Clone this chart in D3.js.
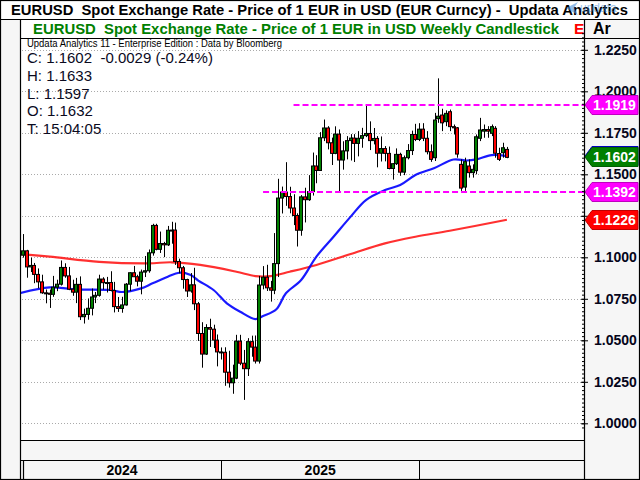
<!DOCTYPE html>
<html>
<head>
<meta charset="utf-8">
<script src="https://cdnjs.cloudflare.com/ajax/libs/d3/7.8.5/d3.min.js"></script>
<style>
body { margin:0; background:#fff; }
svg { display:block; font-family:"Liberation Sans", Arial, sans-serif; }
text { white-space:pre; }
</style>
</head>
<body>
<script>
// weekly candles, index 0 = week of 18 Dec 2023
var openP = [1.0894,1.1013,1.1039,1.0942,1.0951,1.0897,1.0852,1.0786,1.0784,1.0777,
  1.0820,1.0838,1.0939,1.0888,1.0808,1.0790,1.0837,1.0642,1.0656,1.0693,
  1.0761,1.0771,1.0869,1.0847,1.0848,1.0800,1.0703,1.0692,1.0713,1.0838,
  1.0907,1.0883,1.0856,1.0911,1.0919,1.1027,1.1192,1.1048,1.1083,1.1075,
  1.1163,1.1164,1.0975,1.0937,1.0866,1.0797,1.0834,1.0720,1.0541,1.0417,
  1.0577,1.0567,1.0501,1.0430,1.0428,1.0308,1.0244,1.0272,1.0495,1.0362,
  1.0329,1.0492,1.0459,1.0375,1.0833,1.0880,1.0816,1.0802,1.0962,1.1357,
  1.1393,1.1366,1.1297,1.1252,1.1163,1.1364,1.1347,1.1396,1.1550,1.1523,
  1.1720,1.1779,1.1690,1.1626,1.1742,1.1586,1.1641,1.1703,1.1718,1.1686,
  1.1717,1.1733,1.1746,1.1703,1.1716,1.1627,1.1655,1.1626,1.1535,1.1564,
  1.1620,1.1513,1.1600,1.1643,1.1740,1.1710,1.1772,1.1717,1.1636,1.1600,
  1.1835,1.1857,1.1817,1.1877,1.1787,1.1780,1.1560,1.1423,1.1550,1.1510,
  1.1522,1.1717,1.1760,1.1770,1.1747,1.1777,1.1625,1.1630,1.1650];
var highP = [1.1040,1.1140,1.1045,1.0998,1.0966,1.0933,1.0895,1.0806,1.0806,1.0888,
  1.0865,1.0981,1.0964,1.0942,1.0865,1.0876,1.0885,1.0691,1.0752,1.0812,
  1.0791,1.0895,1.0880,1.0882,1.0916,1.0852,1.0761,1.0762,1.0845,1.0910,
  1.0948,1.0895,1.0926,1.1008,1.1047,1.1202,1.1202,1.1155,1.1093,1.1189,
  1.1214,1.1209,1.0992,1.0948,1.0871,1.0905,1.0937,1.0731,1.0609,1.0597,
  1.0630,1.0594,1.0535,1.0457,1.0458,1.0437,1.0353,1.0533,1.0533,1.0442,
  1.0513,1.0528,1.0529,1.0888,1.0947,1.0955,1.0858,1.1146,1.1473,1.1426,
  1.1573,1.1425,1.1380,1.1265,1.1375,1.1419,1.1495,1.1631,1.1615,1.1754,
  1.1830,1.1790,1.1721,1.1789,1.1770,1.1699,1.1730,1.1742,1.1742,1.1760,
  1.1780,1.1919,1.1819,1.1779,1.1730,1.1728,1.1670,1.1667,1.1566,1.1656,
  1.1630,1.1613,1.1682,1.1763,1.1804,1.1808,1.1808,1.1760,1.1680,1.1870,
  1.2078,1.1895,1.1885,1.1890,1.1800,1.1785,1.1590,1.1600,1.1590,1.1560,
  1.1740,1.1840,1.1800,1.1790,1.1800,1.1790,1.1660,1.1690,1.1665];
var lowP = [1.0880,1.0998,1.0877,1.0911,1.0844,1.0813,1.0780,1.0723,1.0695,1.0762,
  1.0796,1.0830,1.0877,1.0802,1.0768,1.0724,1.0622,1.0601,1.0624,1.0650,
  1.0724,1.0763,1.0805,1.0788,1.0795,1.0668,1.0671,1.0666,1.0709,1.0796,
  1.0881,1.0825,1.0777,1.0881,1.0907,1.1010,1.1042,1.1026,1.1001,1.1068,
  1.1082,1.0954,1.0903,1.0811,1.0761,1.0787,1.0682,1.0496,1.0335,1.0412,
  1.0460,1.0453,1.0343,1.0384,1.0226,1.0215,1.0178,1.0266,1.0350,1.0141,
  1.0285,1.0401,1.0360,1.0360,1.0807,1.0797,1.0733,1.0778,1.0881,1.1264,
  1.1310,1.1265,1.1194,1.1065,1.1130,1.1210,1.1340,1.1372,1.1446,1.1520,
  1.1700,1.1650,1.1556,1.1621,1.1392,1.1528,1.1590,1.1583,1.1574,1.1608,
  1.1660,1.1724,1.1646,1.1680,1.1542,1.1577,1.1578,1.1530,1.1468,1.1556,
  1.1491,1.1495,1.1590,1.1616,1.1700,1.1700,1.1700,1.1620,1.1575,1.1580,
  1.1810,1.1760,1.1790,1.1760,1.1740,1.1600,1.1400,1.1400,1.1480,1.1480,
  1.1500,1.1700,1.1720,1.1720,1.1730,1.1600,1.1580,1.1600,1.1597];
var closeP = [1.1013,1.1039,1.0942,1.0951,1.0897,1.0852,1.0786,1.0784,1.0777,1.0820,
  1.0838,1.0939,1.0888,1.0808,1.0790,1.0837,1.0642,1.0656,1.0693,1.0761,
  1.0771,1.0869,1.0847,1.0848,1.0800,1.0703,1.0692,1.0713,1.0838,1.0907,
  1.0883,1.0856,1.0911,1.0919,1.1027,1.1192,1.1048,1.1083,1.1075,1.1163,
  1.1164,1.0975,1.0937,1.0866,1.0797,1.0834,1.0720,1.0541,1.0417,1.0577,
  1.0567,1.0501,1.0430,1.0428,1.0308,1.0244,1.0272,1.0495,1.0362,1.0329,
  1.0492,1.0459,1.0375,1.0833,1.0880,1.0816,1.0802,1.0962,1.1357,1.1393,
  1.1366,1.1297,1.1252,1.1163,1.1364,1.1347,1.1396,1.1550,1.1523,1.1720,
  1.1779,1.1690,1.1626,1.1742,1.1586,1.1641,1.1703,1.1718,1.1686,1.1717,
  1.1733,1.1746,1.1703,1.1716,1.1627,1.1655,1.1626,1.1535,1.1564,1.1620,
  1.1513,1.1600,1.1643,1.1740,1.1710,1.1772,1.1717,1.1636,1.1590,1.1827,
  1.1850,1.1810,1.1867,1.1787,1.1780,1.1622,1.1417,1.1576,1.1510,1.1530,
  1.1726,1.1767,1.1770,1.1760,1.1787,1.1627,1.1590,1.1660,1.1602];

// moving averages at some week positions
var maIdx  = [0, 8, 15, 24, 27, 32, 35, 39, 42, 45, 47, 51, 54.5, 58, 62, 64, 67.5, 70, 74, 78, 82.5, 87, 91, 96, 100, 104, 109, 114, 117.5, 120, 124, 128];
var blueMA = [1.0783,1.0819,1.0807,1.0803,1.0791,1.0813,1.0843,1.0883,1.0907,1.0893,1.0860,1.0803,1.0723,1.0672,1.0628,1.0646,1.0687,1.0783,1.0863,1.1004,1.1124,1.1245,1.1345,1.1405,1.1436,1.1496,1.1538,1.1589,1.1583,1.1590,1.1616,1.1610];
var redIdx = [0, 8, 21, 34, 40, 47.5, 57, 62, 66, 71, 78, 87, 96, 104, 113, 128];
var redMA  = [1.1020,1.1004,1.0973,1.0964,1.0970,1.0954,1.0913,1.0887,1.0887,1.0913,1.0954,1.1020,1.1084,1.1124,1.1160,1.1226];

// support / resistance lines (level, first week)
var levels = [1.1919, 1.1392];
var levelStart = [72, 64];

var yTicks = [1.0, 1.025, 1.05, 1.075, 1.1, 1.125, 1.15, 1.175, 1.2, 1.225];
var years = ["2024", "2025", ""];
var yearBreaks = [-4.7, 53, 105, 148];

var infoLines = ["C: 1.1602  -0.0029 (-0.24%)", "H: 1.1633", "L: 1.1597", "O: 1.1632", "T: 15:04:05"];

var W = 640, H = 480;
var pl = 20, pr = 584, pt = 38, pb = 440;
var panel = "#f6f6f6";

var svg = d3.select("body").append("svg")
    .attr("width", W)
    .attr("height", H);

var x = d3.scaleLinear().domain([0, 128]).range([19.2, 506.9]);
var y = d3.scaleLinear().domain([1.0, 1.225]).range([423.3, 49.8]);

// backgrounds
svg.append("rect").attr("width", W).attr("height", H).attr("fill", "#fff");
svg.append("rect").attr("x", 0).attr("y", 19).attr("width", pl).attr("height", H - 19).attr("fill", panel);
svg.append("rect").attr("x", pr).attr("y", 19).attr("width", W - pr).attr("height", H - 19).attr("fill", panel);
svg.append("rect").attr("x", pl).attr("y", pb).attr("width", pr - pl).attr("height", H - pb).attr("fill", panel);

svg.append("defs").append("clipPath").attr("id", "plotclip")
  .append("rect").attr("x", pl + 1).attr("y", pt + 1).attr("width", pr - pl - 1).attr("height", pb - pt - 1);

// grid
svg.append("g").selectAll("line")
  .data(yTicks)
  .enter().append("line")
    .attr("x1", 22).attr("x2", pr - 3)
    .attr("y1", function(d) { return Math.round(y(d)) + 0.5; })
    .attr("y2", function(d) { return Math.round(y(d)) + 0.5; })
    .attr("stroke", "#aaa")
    .attr("stroke-dasharray", "1,2");

// header texts
svg.append("text")
    .attr("x", 11).attr("y", 15)
    .attr("font-size", 15.5).attr("font-weight", "bold").attr("fill", "#000")
    .attr("textLength", 617).attr("lengthAdjust", "spacingAndGlyphs")
    .text("EURUSD  Spot Exchange Rate - Price of 1 EUR in USD (EUR Curncy) -  Updata Analytics");
// faint logo over the end of the title
svg.append("path")
    .attr("d", "M566,8 L578,2 L574,8 L578,15 Z")
    .attr("fill", "#4a90d9").attr("opacity", 0.6);
svg.append("text")
    .attr("x", 580).attr("y", 12)
    .attr("font-size", 12).attr("fill", "#3a8ad8").attr("opacity", 0.5)
    .text("updata");
svg.append("text")
    .attr("x", 33).attr("y", 34)
    .attr("font-size", 15).attr("font-weight", "bold").attr("fill", "#008000")
    .attr("textLength", 526).attr("lengthAdjust", "spacingAndGlyphs")
    .text("EURUSD  Spot Exchange Rate - Price of 1 EUR in USD Weekly Candlestick");
svg.append("text")
    .attr("x", 574).attr("y", 34)
    .attr("font-size", 15.5).attr("font-weight", "bold").attr("fill", "#ff0000")
    .text("E");
svg.append("rect").attr("x", pr + 1).attr("y", 20).attr("width", W - pr - 2).attr("height", 18).attr("fill", panel);
svg.append("text")
    .attr("x", 593).attr("y", 34)
    .attr("font-size", 16).attr("font-weight", "bold").attr("fill", "#000")
    .text("Ar");
svg.append("text")
    .attr("x", 27).attr("y", 47)
    .attr("font-size", 10).attr("fill", "#000")
    .attr("textLength", 255).attr("lengthAdjust", "spacingAndGlyphs")
    .text("Updata Analytics 11 - Enterprise Edition : Data by Bloomberg");
svg.append("g").selectAll("text")
  .data(infoLines)
  .enter().append("text")
    .attr("x", 27)
    .attr("y", function(d, i) { return 63 + i * 17.8; })
    .attr("font-size", 15).attr("fill", "#0a0a1e")
    .text(function(d) { return d; });

var plot = svg.append("g").attr("clip-path", "url(#plotclip)");

// moving averages
plot.append("path")
  .datum(d3.range(redIdx.length))
    .attr("d", d3.line()
      .x(function(i) { return x(redIdx[i]); })
      .y(function(i) { return y(redMA[i]); })
      .curve(d3.curveCatmullRom))
    .attr("fill", "none").attr("stroke", "#ff1a1a").attr("stroke-width", 2.2).attr("stroke-opacity", 0.9);
plot.append("path")
  .datum(d3.range(maIdx.length))
    .attr("d", d3.line()
      .x(function(i) { return x(maIdx[i]); })
      .y(function(i) { return y(blueMA[i]); })
      .curve(d3.curveCatmullRom))
    .attr("fill", "none").attr("stroke", "#0000ff").attr("stroke-width", 2.2).attr("stroke-opacity", 0.9);

// candles
var idx = d3.range(closeP.length);
plot.append("g").selectAll("line")
  .data(idx)
  .enter().append("line")
    .attr("x1", function(i) { return Math.round(x(i)) + 0.5; })
    .attr("x2", function(i) { return Math.round(x(i)) + 0.5; })
    .attr("y1", function(i) { return y(highP[i]); })
    .attr("y2", function(i) { return y(lowP[i]); })
    .attr("stroke", "#000").attr("stroke-width", 1);
plot.append("g").selectAll("rect")
  .data(idx)
  .enter().append("rect")
    .attr("x", function(i) { return Math.round(x(i)) - 1.5; })
    .attr("width", 3)
    .attr("y", function(i) { return y(Math.max(openP[i], closeP[i])); })
    .attr("height", function(i) { return Math.max(1, Math.abs(y(openP[i]) - y(closeP[i]))); })
    .attr("fill", function(i) { return closeP[i] >= openP[i] ? "#008000" : "#ff0000"; })
    .attr("stroke", "#000").attr("stroke-width", 1);

// dashed levels
svg.append("g").selectAll("line")
  .data(levels)
  .enter().append("line")
    .attr("x1", function(d, i) { return x(levelStart[i]); })
    .attr("x2", pr)
    .attr("y1", function(d) { return Math.round(y(d)); })
    .attr("y2", function(d) { return Math.round(y(d)); })
    .attr("stroke", "#ff00ff").attr("stroke-width", 2)
    .attr("stroke-dasharray", "6,3");

// right axis
var axisG = svg.append("g").attr("transform", "translate(" + (pr - 2) + ",0)");
axisG.call(d3.axisRight(y).tickValues(d3.range(0.9975, 1.2375, 0.0025)).tickSize(3).tickFormat(""));
axisG.call(function(g) { g.select(".domain").remove(); });
var axisMaj = svg.append("g").attr("transform", "translate(" + (pr - 3) + ",0)");
axisMaj.call(d3.axisRight(y).tickValues(yTicks).tickSize(7).tickPadding(6).tickFormat(d3.format(".4f")));
axisMaj.select(".domain").remove();
axisMaj.selectAll("text")
    .attr("font-family", "Liberation Sans, Arial, sans-serif")
    .attr("font-size", 14).attr("font-weight", "bold").attr("fill", "#05051a");
svg.selectAll(".tick line").attr("stroke", "#000");

// price tags
var tagVals = [blueMA[blueMA.length - 1], closeP[closeP.length - 1], levels[0], levels[1], redMA[redMA.length - 1]];
var tagFill = ["#0000ff", "#008000", "#ff00ff", "#ff00ff", "#ff0000"];
var tags = svg.append("g").selectAll("g")
  .data(tagVals)
  .enter().append("g")
    .attr("transform", function(d) { return "translate(0," + Math.round(y(d)) + ")"; });
tags.append("path")
    .attr("d", "M585,0 L592,-9.5 L638,-9.5 L638,9.5 L592,9.5 Z")
    .attr("fill", function(d, i) { return tagFill[i]; })
    .attr("stroke", function(d, i) { return d3.color(tagFill[i]).darker(0.8); })
    .attr("stroke-width", 1);
tags.append("text")
    .attr("x", 593).attr("y", 5)
    .attr("font-size", 14).attr("font-weight", "bold").attr("fill", "#fff")
    .text(function(d, i) { return i == 0 ? "" : d3.format(".4f")(d); });

// year strip
svg.append("g").selectAll("text")
  .data(years)
  .enter().append("text")
    .attr("x", function(d, i) { return (Math.max(x(yearBreaks[i]), 23) + Math.min(x(yearBreaks[i + 1]), pr)) / 2; })
    .attr("y", 475)
    .attr("text-anchor", "middle")
    .attr("font-size", 14).attr("font-weight", "bold").attr("fill", "#000")
    .text(function(d) { return d; });
svg.append("g").selectAll("line")
  .data(yearBreaks.slice(1, 3))
  .enter().append("line")
    .attr("x1", function(d) { return Math.round(x(d)) + 0.5; })
    .attr("x2", function(d) { return Math.round(x(d)) + 0.5; })
    .attr("y1", 460).attr("y2", H)
    .attr("stroke", "#000");

// frame lines
var frame = [
  [0, 19.5, W, 19.5], [pl + 0.5, 19, pl + 0.5, H], [pr + 0.5, 19, pr + 0.5, H],
  [pl, 38.5, W, 38.5], [pl, pb + 0.5, pr, pb + 0.5], [pl, 460.5, pr, 460.5],
  [23.5, 460, 23.5, H]
];
svg.append("g").selectAll("line")
  .data(frame)
  .enter().append("line")
    .attr("x1", function(d) { return d[0]; }).attr("y1", function(d) { return d[1]; })
    .attr("x2", function(d) { return d[2]; }).attr("y2", function(d) { return d[3]; })
    .attr("stroke", "#000").attr("stroke-width", 1.2);
svg.append("rect")
    .attr("x", 0.5).attr("y", 0.5).attr("width", W - 1).attr("height", H - 1)
    .attr("fill", "none").attr("stroke", "#000").attr("stroke-width", 1.2);
</script>
</body>
</html>
